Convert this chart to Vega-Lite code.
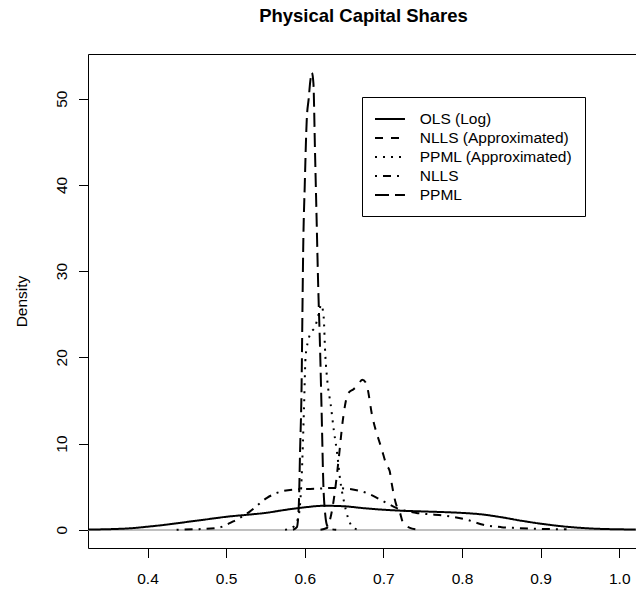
{
  "$schema": "https://vega.github.io/schema/vega-lite/v6.json",
  "width": 548,
  "height": 494,
  "autosize": {"type": "none"},
  "padding": {"left": 88, "top": 54, "right": 0, "bottom": 44},
  "background": "white",
  "config": {
    "view": {"stroke": null},
    "font": "Liberation Sans",
    "axis": {"grid": false, "domainColor": "black", "tickColor": "black", "labelColor": "black", "titleColor": "black", "labelFont": "Liberation Sans", "titleFont": "Liberation Sans", "labelFontSize": 15.5, "titleFontSize": 15.5, "titleFontWeight": "normal", "tickSize": 9.5, "domainWidth": 1, "tickWidth": 1}
  },
  "title": {"text": "Physical Capital Shares", "font": "Liberation Sans", "fontSize": 18.5, "fontWeight": "bold", "color": "black", "anchor": "middle", "baseline": "alphabetic", "offset": 13.5, "dx": 1.5},
  "data": {"values": [
    {"s": "OLS (Log)", "x": 0.3243, "d": 0.02},
    {"s": "OLS (Log)", "x": 0.35, "d": 0.06},
    {"s": "OLS (Log)", "x": 0.375, "d": 0.15},
    {"s": "OLS (Log)", "x": 0.4, "d": 0.35},
    {"s": "OLS (Log)", "x": 0.425, "d": 0.6},
    {"s": "OLS (Log)", "x": 0.45, "d": 0.9},
    {"s": "OLS (Log)", "x": 0.475, "d": 1.2},
    {"s": "OLS (Log)", "x": 0.5, "d": 1.5},
    {"s": "OLS (Log)", "x": 0.525, "d": 1.72},
    {"s": "OLS (Log)", "x": 0.55, "d": 1.95},
    {"s": "OLS (Log)", "x": 0.575, "d": 2.3},
    {"s": "OLS (Log)", "x": 0.6, "d": 2.6},
    {"s": "OLS (Log)", "x": 0.625, "d": 2.78},
    {"s": "OLS (Log)", "x": 0.65, "d": 2.72},
    {"s": "OLS (Log)", "x": 0.675, "d": 2.5},
    {"s": "OLS (Log)", "x": 0.7, "d": 2.32},
    {"s": "OLS (Log)", "x": 0.725, "d": 2.2},
    {"s": "OLS (Log)", "x": 0.75, "d": 2.12},
    {"s": "OLS (Log)", "x": 0.775, "d": 2.05},
    {"s": "OLS (Log)", "x": 0.8, "d": 1.95},
    {"s": "OLS (Log)", "x": 0.825, "d": 1.78},
    {"s": "OLS (Log)", "x": 0.85, "d": 1.45},
    {"s": "OLS (Log)", "x": 0.875, "d": 1.05},
    {"s": "OLS (Log)", "x": 0.9, "d": 0.7},
    {"s": "OLS (Log)", "x": 0.925, "d": 0.42},
    {"s": "OLS (Log)", "x": 0.95, "d": 0.22},
    {"s": "OLS (Log)", "x": 0.975, "d": 0.1},
    {"s": "OLS (Log)", "x": 1.0, "d": 0.05},
    {"s": "OLS (Log)", "x": 1.021, "d": 0.02},

    {"s": "NLLS (Approximated)", "x": 0.62, "d": 0.0},
    {"s": "NLLS (Approximated)", "x": 0.628, "d": 0.2},
    {"s": "NLLS (Approximated)", "x": 0.633, "d": 1.5},
    {"s": "NLLS (Approximated)", "x": 0.638, "d": 4.2},
    {"s": "NLLS (Approximated)", "x": 0.643, "d": 8.1},
    {"s": "NLLS (Approximated)", "x": 0.649, "d": 13.1},
    {"s": "NLLS (Approximated)", "x": 0.655, "d": 15.8},
    {"s": "NLLS (Approximated)", "x": 0.662, "d": 16.3},
    {"s": "NLLS (Approximated)", "x": 0.668, "d": 16.8},
    {"s": "NLLS (Approximated)", "x": 0.673, "d": 17.4},
    {"s": "NLLS (Approximated)", "x": 0.678, "d": 17.0},
    {"s": "NLLS (Approximated)", "x": 0.686, "d": 13.1},
    {"s": "NLLS (Approximated)", "x": 0.698, "d": 9.3},
    {"s": "NLLS (Approximated)", "x": 0.704, "d": 7.5},
    {"s": "NLLS (Approximated)", "x": 0.708, "d": 6.8},
    {"s": "NLLS (Approximated)", "x": 0.7105, "d": 5.4},
    {"s": "NLLS (Approximated)", "x": 0.716, "d": 3.0},
    {"s": "NLLS (Approximated)", "x": 0.721, "d": 2.0},
    {"s": "NLLS (Approximated)", "x": 0.725, "d": 0.8},
    {"s": "NLLS (Approximated)", "x": 0.733, "d": 0.25},
    {"s": "NLLS (Approximated)", "x": 0.745, "d": 0.02},

    {"s": "PPML (Approximated)", "x": 0.575, "d": 0.0},
    {"s": "PPML (Approximated)", "x": 0.585, "d": 0.3},
    {"s": "PPML (Approximated)", "x": 0.592, "d": 1.5},
    {"s": "PPML (Approximated)", "x": 0.596, "d": 6},
    {"s": "PPML (Approximated)", "x": 0.599, "d": 14},
    {"s": "PPML (Approximated)", "x": 0.601, "d": 20},
    {"s": "PPML (Approximated)", "x": 0.604, "d": 21.8},
    {"s": "PPML (Approximated)", "x": 0.608, "d": 22.9},
    {"s": "PPML (Approximated)", "x": 0.613, "d": 23.5},
    {"s": "PPML (Approximated)", "x": 0.617, "d": 24.8},
    {"s": "PPML (Approximated)", "x": 0.621, "d": 26.1},
    {"s": "PPML (Approximated)", "x": 0.624, "d": 24.7},
    {"s": "PPML (Approximated)", "x": 0.626, "d": 20.5},
    {"s": "PPML (Approximated)", "x": 0.629, "d": 17},
    {"s": "PPML (Approximated)", "x": 0.633, "d": 14.5},
    {"s": "PPML (Approximated)", "x": 0.637, "d": 11.5},
    {"s": "PPML (Approximated)", "x": 0.641, "d": 9},
    {"s": "PPML (Approximated)", "x": 0.645, "d": 5.8},
    {"s": "PPML (Approximated)", "x": 0.65, "d": 3.2},
    {"s": "PPML (Approximated)", "x": 0.655, "d": 1.4},
    {"s": "PPML (Approximated)", "x": 0.662, "d": 0.2},
    {"s": "PPML (Approximated)", "x": 0.67, "d": 0.0},

    {"s": "NLLS", "x": 0.437, "d": 0.0},
    {"s": "NLLS", "x": 0.46, "d": 0.05},
    {"s": "NLLS", "x": 0.488, "d": 0.2},
    {"s": "NLLS", "x": 0.509, "d": 0.96},
    {"s": "NLLS", "x": 0.53, "d": 2.1},
    {"s": "NLLS", "x": 0.552, "d": 3.7},
    {"s": "NLLS", "x": 0.573, "d": 4.5},
    {"s": "NLLS", "x": 0.594, "d": 4.7},
    {"s": "NLLS", "x": 0.615, "d": 4.75},
    {"s": "NLLS", "x": 0.636, "d": 4.85},
    {"s": "NLLS", "x": 0.655, "d": 4.75},
    {"s": "NLLS", "x": 0.679, "d": 4.25},
    {"s": "NLLS", "x": 0.7, "d": 3.3},
    {"s": "NLLS", "x": 0.717, "d": 2.5},
    {"s": "NLLS", "x": 0.742, "d": 1.95},
    {"s": "NLLS", "x": 0.765, "d": 1.75},
    {"s": "NLLS", "x": 0.785, "d": 1.55},
    {"s": "NLLS", "x": 0.806, "d": 1.16},
    {"s": "NLLS", "x": 0.827, "d": 0.58},
    {"s": "NLLS", "x": 0.85, "d": 0.3},
    {"s": "NLLS", "x": 0.869, "d": 0.2},
    {"s": "NLLS", "x": 0.9, "d": 0.1},
    {"s": "NLLS", "x": 0.933, "d": 0.05},

    {"s": "PPML", "x": 0.585, "d": 0.0},
    {"s": "PPML", "x": 0.59, "d": 0.3},
    {"s": "PPML", "x": 0.5925, "d": 3},
    {"s": "PPML", "x": 0.594, "d": 9},
    {"s": "PPML", "x": 0.596, "d": 17},
    {"s": "PPML", "x": 0.597, "d": 25},
    {"s": "PPML", "x": 0.598, "d": 32.5},
    {"s": "PPML", "x": 0.6, "d": 40},
    {"s": "PPML", "x": 0.6025, "d": 47.5},
    {"s": "PPML", "x": 0.605, "d": 50},
    {"s": "PPML", "x": 0.607, "d": 52},
    {"s": "PPML", "x": 0.609, "d": 53},
    {"s": "PPML", "x": 0.611, "d": 51.8},
    {"s": "PPML", "x": 0.613, "d": 44},
    {"s": "PPML", "x": 0.615, "d": 36.3},
    {"s": "PPML", "x": 0.617, "d": 28.6},
    {"s": "PPML", "x": 0.6195, "d": 20.9},
    {"s": "PPML", "x": 0.6216, "d": 13.1},
    {"s": "PPML", "x": 0.6236, "d": 5.4},
    {"s": "PPML", "x": 0.626, "d": 1.8},
    {"s": "PPML", "x": 0.628, "d": 0.6},
    {"s": "PPML", "x": 0.632, "d": 0.1},
    {"s": "PPML", "x": 0.64, "d": 0.0}
  ]},
  "layer": [
    {
      "mark": {"type": "rule", "color": "#bebebe", "strokeWidth": 1},
      "encoding": {"y": {"datum": 0, "type": "quantitative", "scale": {"domain": [-2.12, 55.18], "nice": false, "zero": false}}}
    },
    {
      "mark": {"type": "line", "color": "black", "strokeWidth": 2, "interpolate": "monotone"},
      "encoding": {
        "x": {"field": "x", "type": "quantitative", "scale": {"domain": [0.3243, 1.0213], "nice": false, "zero": false},
          "axis": {"title": null, "values": [0.4, 0.5, 0.6, 0.7, 0.8, 0.9, 1.0], "format": ".1f", "labelBaseline": "alphabetic", "labelPadding": 26, "labelFlush": false, "labelOverlap": false}},
        "y": {"field": "d", "type": "quantitative", "scale": {"domain": [-2.12, 55.18], "nice": false, "zero": false},
          "axis": {"title": "Density", "values": [0, 10, 20, 30, 40, 50], "labelAngle": -90, "labelAlign": "center", "labelBaseline": "alphabetic", "labelPadding": 12.5, "labelFlush": false, "labelOverlap": false, "titleAngle": 270, "titleAlign": "center", "titleBaseline": "alphabetic", "titleX": -62, "titleY": 247}},
        "strokeDash": {"field": "s", "type": "nominal",
          "scale": {"domain": ["OLS (Log)", "NLLS (Approximated)", "PPML (Approximated)", "NLLS", "PPML"], "range": [[1, 0], [8, 8], [2, 6], [2, 6, 8, 6], [14, 6]]},
          "legend": {"title": null, "orient": "none", "legendX": 274, "legendY": 43, "symbolType": "M-1,0H2.33", "symbolSize": 324, "symbolStrokeWidth": 2, "symbolStrokeColor": "black", "symbolFillColor": "transparent", "labelFontSize": 15.5, "labelFont": "Liberation Sans", "labelColor": "black", "labelOffset": 25.7, "rowPadding": -0.5, "padding": 12, "strokeColor": "black", "fillColor": "white", "labelLimit": 300}}
      }
    },
    {
      "mark": {"type": "line", "opacity": 0},
      "encoding": {
        "x": {"field": "x", "type": "quantitative", "scale": {"domain": [0.3243, 1.0213], "nice": false, "zero": false},
          "axis": {"orient": "top", "title": null, "labels": false, "ticks": false, "domain": true}},
        "y": {"field": "d", "type": "quantitative"}
      }
    }
  ],
  "resolve": {"axis": {"x": "independent", "y": "shared"}}
}
